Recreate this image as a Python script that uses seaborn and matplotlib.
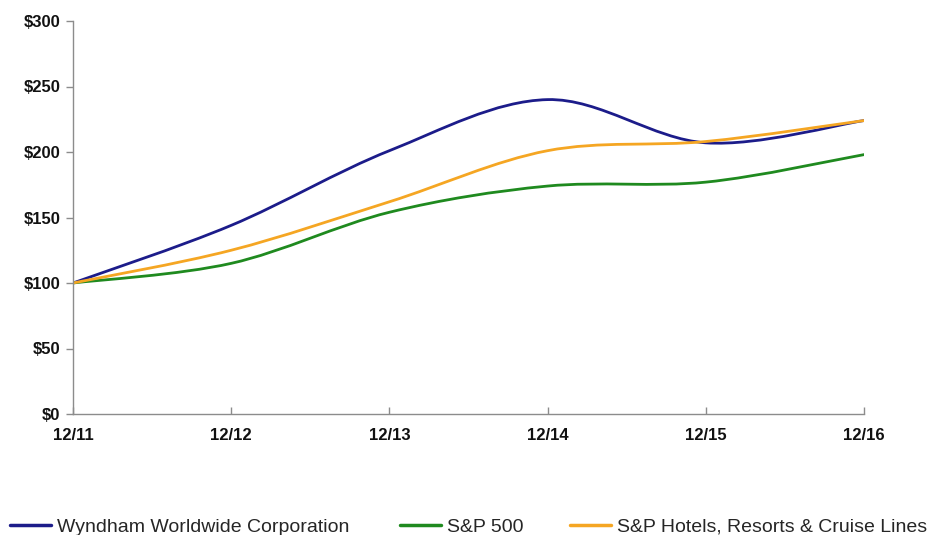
import numpy as np
import pandas as pd
import seaborn as sns
import matplotlib
matplotlib.use("Agg")
import matplotlib.pyplot as plt
from matplotlib.path import Path
from matplotlib.patches import PathPatch
from matplotlib.lines import Line2D
from matplotlib.ticker import FuncFormatter

periods = ["12/11", "12/12", "12/13", "12/14", "12/15", "12/16"]
wyndham = [100, 144, 201, 240, 207, 224]
sp500 = [100, 115, 154, 174, 177, 198]
hotels = [100, 125, 162, 201, 208, 224]
series_names = ["Wyndham Worldwide Corporation", "S&P 500", "S&P Hotels, Resorts & Cruise Lines"]
colors = ["#1c1c8a", "#1f8a1f", "#f5a623"]
y_ticks = [0, 50, 100, 150, 200, 250, 300]

sns.set_theme(style="white")
plt.rcParams["font.family"] = ["Liberation Sans", "DejaVu Sans"]

rows = []
for name, vals in zip(series_names, [wyndham, sp500, hotels]):
    for i, v in enumerate(vals):
        rows.append({"x": i, "period": periods[i], "value": v, "series": name})
df = pd.DataFrame(rows)

fig = plt.figure(figsize=(9.31, 5.35), dpi=100)
ax = fig.add_axes([73 / 931, 1 - 414 / 535, (864 - 73) / 931, (414 - 21) / 535])

sns.lineplot(data=df, x="x", y="value", hue="series", hue_order=series_names,
             palette=colors, ax=ax, legend=False, linewidth=2)

# Smoothed (Catmull-Rom Bezier) rendering of the same data points
for line, col in zip(ax.get_lines(), colors):
    xs, ys = line.get_xdata(), line.get_ydata()
    pts = np.column_stack([xs, ys]).astype(float)
    n = len(pts)
    verts = [pts[0]]
    codes = [Path.MOVETO]
    for i in range(n - 1):
        p0 = pts[i - 1] if i > 0 else pts[i]
        p1 = pts[i]
        p2 = pts[i + 1]
        p3 = pts[i + 2] if i + 2 < n else pts[i + 1]
        c1 = p1 + (p2 - p0) / 6.0
        c2 = p2 - (p3 - p1) / 6.0
        verts += [c1, c2, p2]
        codes += [Path.CURVE4] * 3
    patch = PathPatch(Path(verts, codes), facecolor="none", edgecolor=col,
                      linewidth=2, transform=ax.transData, capstyle="round")
    ax.add_patch(patch)
    line.set_visible(False)

ax.set_xlim(0, len(periods) - 1)
ax.set_ylim(0, 300)
ax.set_xticks(range(len(periods)))
ax.set_xticklabels(periods)
ax.set_yticks(y_ticks)
ax.yaxis.set_major_formatter(FuncFormatter(lambda v, p: f"${int(v)}"))
ax.set_xlabel("")
ax.set_ylabel("")

for s in ["top", "right"]:
    ax.spines[s].set_visible(False)
for s in ["left", "bottom"]:
    ax.spines[s].set_color("#8c8c8c")
    ax.spines[s].set_linewidth(1)

ax.tick_params(axis="y", direction="out", length=5, width=1, color="#8c8c8c",
               left=True, labelsize=12, pad=4)
ax.tick_params(axis="x", direction="in", length=5, width=1, color="#8c8c8c",
               bottom=True, labelsize=12, pad=10)
for lab in ax.get_xticklabels() + ax.get_yticklabels():
    lab.set_fontweight("bold")
    lab.set_color("#111111")

# Legend entries placed individually along the bottom
legend_x = [10 / 931, 400 / 931, 570 / 931]
for name, col, lx in zip(series_names, colors, legend_x):
    fig.legend([Line2D([0], [0], color=col, linewidth=2.5)], [name],
               loc="center left", bbox_to_anchor=(lx, 1 - 527 / 535),
               frameon=False, fontsize=14, handlelength=2.1,
               handletextpad=0.3, borderaxespad=0, borderpad=0)

fig.savefig("out.png", dpi=100)
